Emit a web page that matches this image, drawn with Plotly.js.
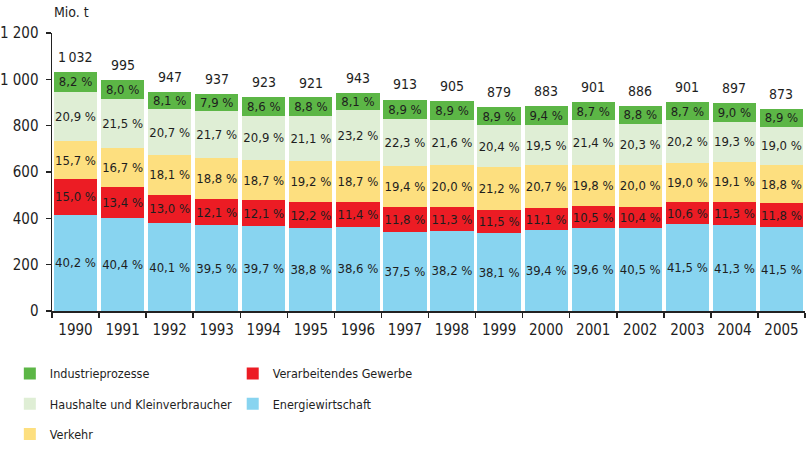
<!DOCTYPE html>
<html>
<head>
<meta charset="utf-8">
<script src="https://cdn.plot.ly/plotly-3.0.1.min.js"></script>
<style>html,body{margin:0;padding:0;background:#fff;}#chart{width:807px;height:451px;}</style>
</head>
<body>
<div id="chart"></div>
<script>
const years = ['1990','1991','1992','1993','1994','1995','1996','1997','1998','1999','2000','2001','2002','2003','2004','2005'];
const totals = [1032, 995, 947, 937, 923, 921, 943, 913, 905, 879, 883, 901, 886, 901, 897, 873];
const pctEnergie = [40.2, 40.4, 40.1, 39.5, 39.7, 38.8, 38.6, 37.5, 38.2, 38.1, 39.4, 39.6, 40.5, 41.5, 41.3, 41.5];
const pctVerarbeitend = [15.0, 13.4, 13.0, 12.1, 12.1, 12.2, 11.4, 11.8, 11.3, 11.5, 11.1, 10.5, 10.4, 10.6, 11.3, 11.8];
const pctVerkehr = [15.7, 16.7, 18.1, 18.8, 18.7, 19.2, 18.7, 19.4, 20.0, 21.2, 20.7, 19.8, 20.0, 19.0, 19.1, 18.8];
const pctHaushalte = [20.9, 21.5, 20.7, 21.7, 20.9, 21.1, 23.2, 22.3, 21.6, 20.4, 19.5, 21.4, 20.3, 20.2, 19.3, 19.0];
const pctIndustrie = [8.2, 8.0, 8.1, 7.9, 8.6, 8.8, 8.1, 8.9, 8.9, 8.9, 9.4, 8.7, 8.8, 8.7, 9.0, 8.9];

const FONT = '"DejaVu Sans Condensed", "Liberation Sans Narrow", "Liberation Sans", sans-serif';
const TXT = '#1e1e1e';

function fmtPct(p){ return p.toFixed(1).replace('.', ',') + '\u00a0%'; }
function fmtTotal(t){ const s = String(t); return s.length > 3 ? s.slice(0, s.length-3) + '\u2009' + s.slice(-3) : s; }

const series = [
  {name:'Energiewirtschaft', pct:pctEnergie, color:'#88D4F0', legend:'legend2', rank:2},
  {name:'Verarbeitendes Gewerbe', pct:pctVerarbeitend, color:'#EC1C24', legend:'legend2', rank:1},
  {name:'Verkehr', pct:pctVerkehr, color:'#FDDF7F', legend:'legend', rank:3},
  {name:'Haushalte und Kleinverbraucher', pct:pctHaushalte, color:'#DFEED5', legend:'legend', rank:2},
  {name:'Industrieprozesse', pct:pctIndustrie, color:'#5CB646', legend:'legend', rank:1}
];

const traces = series.map((s, i) => ({
  type:'bar',
  name:s.name,
  x:years,
  y:s.pct.map((p, j) => totals[j] * p / 100),
  text:s.pct.map(fmtPct),
  textposition:'inside',
  insidetextanchor:'middle',
  textangle:0,
  constraintext:'none',
  textfont:{family:FONT, size:13, color:TXT},
  marker:{color:s.color, line:{width:0}},
  legend:s.legend,
  legendgroup:'g'+i,
  legendrank:s.rank,
  hoverinfo:'skip'
}));

const annotations = years.map((y, j) => ({
  x:j, y:totals[j], xref:'x', yref:'y',
  text:fmtTotal(totals[j]), showarrow:false,
  yanchor:'bottom', yshift:5,
  font:{family:FONT, size:14, color:TXT}
}));
annotations.push({
  x:0, y:1.075, xref:'paper', yref:'paper', xanchor:'left', yanchor:'middle',
  text:'Mio. t', showarrow:false, font:{family:FONT, size:14, color:TXT}
});

const legendCommon = {
  orientation:'v', traceorder:'grouped', yanchor:'top', valign:'middle',
  font:{family:FONT, size:12.5, color:TXT}, tracegroupgap:11, bgcolor:'rgba(0,0,0,0)'
};

const layout = {
  width:807, height:451,
  margin:{l:52, r:2, t:33, b:136, pad:0},
  paper_bgcolor:'#fff', plot_bgcolor:'#fff',
  barmode:'stack', bargap:0.08,
  separators:', ',
  font:{family:FONT, color:TXT},
  xaxis:{
    type:'category', range:[-0.5, 15.5], showline:true, linecolor:'#222', linewidth:1.5,
    ticks:'outside', ticklen:5, tickcolor:'#222', tickwidth:1.5, tickson:'boundaries',
    ticklabelstandoff:4,
    tickfont:{family:FONT, size:15, color:TXT}, showgrid:false, zeroline:false, fixedrange:true
  },
  yaxis:{
    range:[0,1200], dtick:200, tick0:0, showline:true, linecolor:'#222', linewidth:1.5,
    ticks:'outside', ticklen:5, tickcolor:'#222', tickwidth:1.5, separatethousands:true,
    ticklabelstandoff:4,
    tickfont:{family:FONT, size:15, color:TXT}, showgrid:false, zeroline:false, fixedrange:true
  },
  legend:Object.assign({x:-0.056, y:-0.172}, legendCommon),
  legend2:Object.assign({x:0.24, y:-0.172}, legendCommon),
  annotations:annotations,
  showlegend:true
};

Plotly.newPlot('chart', traces, layout, {staticPlot:true, displayModeBar:false});
</script>
</body>
</html>
